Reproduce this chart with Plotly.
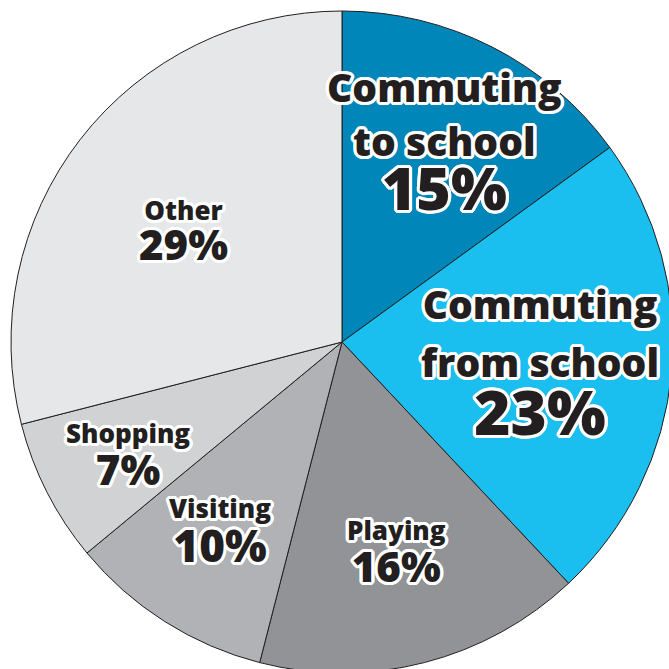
import math
import plotly.graph_objects as go

# Share of trips by purpose (percent), clockwise from 12 o'clock
purposes = ["Commuting to school", "Commuting from school", "Playing",
            "Visiting", "Shopping", "Other"]
shares = [15, 23, 16, 10, 7, 29]
slice_colors = ["#0086b9", "#1abfef", "#929396", "#b1b2b5", "#d1d2d4", "#e6e7e8"]

# Name lines printed above each percentage
label_lines = [
    ["Commuting", "to school"],
    ["Commuting", "from school"],
    ["Playing"],
    ["Visiting"],
    ["Shopping"],
    ["Other"],
]

# Canvas is slightly larger than the viewport so the disc can run past the edge
W = H = 684
CX, CY, R = 342, 342, 331

# Label layout: centre x, first and last baseline (pixels from top-left),
# name font size and percentage font size
label_x = [445, 540, 397, 220, 128, 183]
first_base = [102, 319, 540, 518, 443, 220]
last_base = [210, 435, 582, 562, 485, 260]
name_size = [39, 39, 26, 26, 26, 26]
pct_size = [59, 62, 42, 44, 42, 42]

TEXT_COLOR = "#231f20"
FONT = "Open Sans"
ASCENT, DESCENT = 1.069, 0.293   # font metrics used for the text box
LINE_SPACING = 1.3               # plotly line pitch, in em of the base size


def outline(px, color="#ffffff", steps=16):
    offs = []
    for k in range(steps):
        a = 2 * math.pi * k / steps
        offs.append(f"{px * math.cos(a):.2f}px {px * math.sin(a):.2f}px 0 {color}")
    return ", ".join(offs)


fig = go.Figure(
    go.Pie(
        labels=purposes,
        values=shares,
        sort=False,
        direction="clockwise",
        rotation=0,
        marker=dict(colors=slice_colors, line=dict(color="#231f20", width=1)),
        textinfo="none",
        hoverinfo="label+percent",
        showlegend=False,
        domain=dict(x=[(CX - R) / W, (CX + R) / W],
                    y=[(H - CY - R) / H, (H - CY + R) / H]),
    )
)

annotations = []
shadow = outline(3.2)
for i, lines in enumerate(label_lines):
    n = len(lines) + 1
    pitch = (last_base[i] - first_base[i]) / (n - 1)
    base_size = pitch / LINE_SPACING
    parts = [f"<span style='font-size:{name_size[i]}px'>{t}</span>" for t in lines]
    parts.append(f"<span style='font-size:{pct_size[i]}px'>{shares[i]}%</span>")
    top = first_base[i] - ASCENT * name_size[i]
    bottom = last_base[i] + DESCENT * pct_size[i]
    yc = (top + bottom) / 2
    annotations.append(dict(
        x=label_x[i] / W, y=1 - yc / H, xref="paper", yref="paper",
        text="<br>".join(parts), showarrow=False,
        xanchor="center", yanchor="middle", align="center",
        font=dict(family=FONT, size=base_size, color=TEXT_COLOR, weight=800,
                  shadow=shadow),
    ))

fig.update_layout(
    width=W, height=H,
    margin=dict(l=0, r=0, t=0, b=0),
    paper_bgcolor="white",
    plot_bgcolor="white",
    annotations=annotations,
)

fig.write_html(
    "out.html",
    post_script="document.documentElement.style.overflow='hidden';"
                "document.body.style.overflow='hidden';"
                "document.body.style.margin='0';",
)
